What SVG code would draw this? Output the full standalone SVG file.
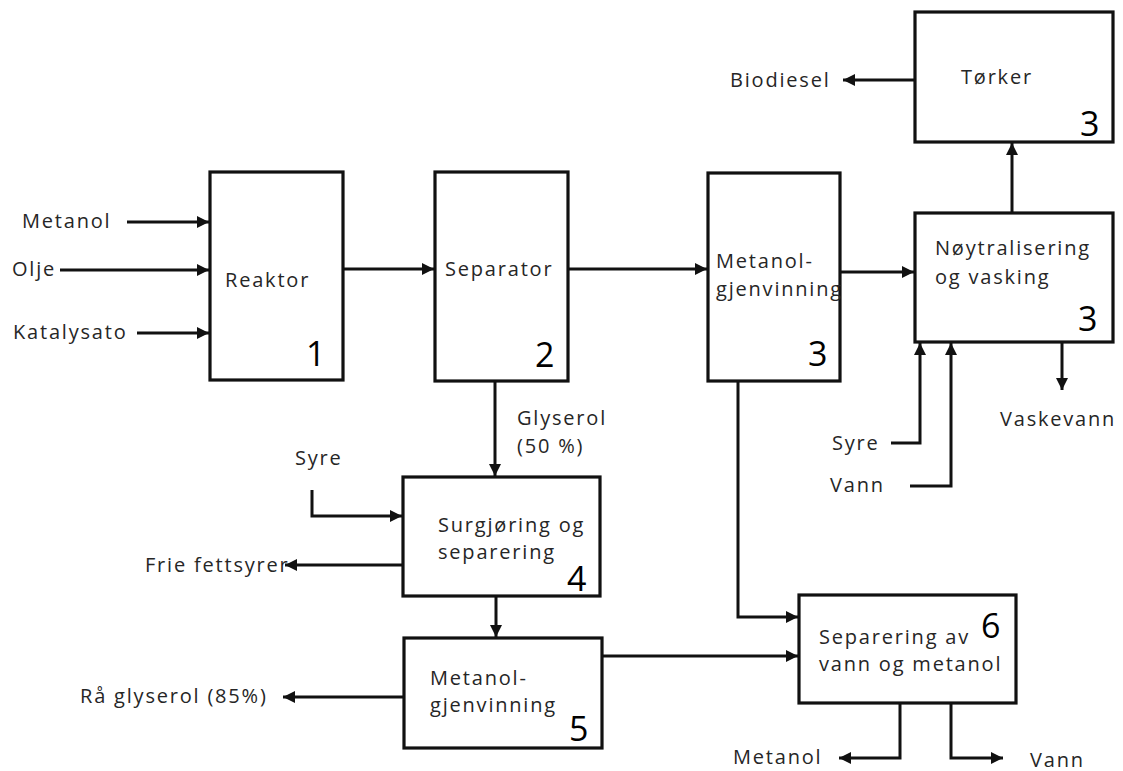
<svg xmlns="http://www.w3.org/2000/svg" width="1123" height="771" viewBox="0 0 1123 771">
<style>
.box{fill:#fff;stroke:#111;stroke-width:3.2}
.ln{fill:none;stroke:#111;stroke-width:3}
.t{font-family:"Open Sans","Noto Sans",sans-serif;font-size:20px;fill:#262626;letter-spacing:1.8px}
.n{font-family:"Open Sans","Noto Sans",sans-serif;font-size:34px;fill:#000}
</style>
<defs>
<marker id="ah" viewBox="0 0 10 10" refX="10" refY="5" markerWidth="13" markerHeight="12" markerUnits="userSpaceOnUse" orient="auto">
<path d="M0,0 L10,5 L0,10 Z" fill="#111"/>
</marker>
</defs>
<rect width="1123" height="771" fill="#fff"/>
<g id="connectors">
<path class="ln" d="M127,222 H209" marker-end="url(#ah)"/>
<path class="ln" d="M60,270 H209" marker-end="url(#ah)"/>
<path class="ln" d="M137,333 H209" marker-end="url(#ah)"/>
<path class="ln" d="M343,269 H434" marker-end="url(#ah)"/>
<path class="ln" d="M568,269 H707" marker-end="url(#ah)"/>
<path class="ln" d="M840,272 H914" marker-end="url(#ah)"/>
<path class="ln" d="M1012,213 V143" marker-end="url(#ah)"/>
<path class="ln" d="M915,80 H843" marker-end="url(#ah)"/>
<path class="ln" d="M1062,342 V390" marker-end="url(#ah)"/>
<path class="ln" d="M891,443 H920 V343" marker-end="url(#ah)"/>
<path class="ln" d="M910,486 H951 V343" marker-end="url(#ah)"/>
<path class="ln" d="M738,381 V617 H798" marker-end="url(#ah)"/>
<path class="ln" d="M602,656 H798" marker-end="url(#ah)"/>
<path class="ln" d="M900,703 V758 H839" marker-end="url(#ah)"/>
<path class="ln" d="M951,703 V758 H1003" marker-end="url(#ah)"/>
<path class="ln" d="M495,381 V476" marker-end="url(#ah)"/>
<path class="ln" d="M312,490 V516 H402" marker-end="url(#ah)"/>
<path class="ln" d="M403,565 H285" marker-end="url(#ah)"/>
<path class="ln" d="M496,596 V637" marker-end="url(#ah)"/>
<path class="ln" d="M404,697 H283" marker-end="url(#ah)"/>
</g>
<g id="labels">
<text class="t" x="22" y="228">Metanol</text>
<text class="t" x="12" y="276">Olje</text>
<text class="t" x="13" y="339">Katalysato</text>
<text class="t" x="730" y="87">Biodiesel</text>
<text class="t" x="1000" y="426">Vaskevann</text>
<text class="t" x="832" y="450">Syre</text>
<text class="t" x="830" y="492">Vann</text>
<text class="t" x="517" y="425">Glyserol</text>
<text class="t" x="517" y="453">(50 %)</text>
<text class="t" x="295" y="465">Syre</text>
<text class="t" x="145" y="572">Frie fettsyrer</text>
<text class="t" x="80" y="703">Rå glyserol (85%)</text>
<text class="t" x="733" y="764">Metanol</text>
<text class="t" x="1030" y="767">Vann</text>
</g>
<g id="reaktor">
<rect class="box" x="210" y="172" width="133" height="208"/>
<text class="t" x="225" y="287">Reaktor</text>
<text class="n" x="306" y="366">1</text>
</g>
<g id="separator">
<rect class="box" x="435" y="172" width="133" height="209"/>
<text class="t" x="445" y="276">Separator</text>
<text class="n" x="535" y="367">2</text>
</g>
<g id="metanolgjenvinning3">
<rect class="box" x="708" y="173" width="132" height="208"/>
<text class="t" x="716" y="268">Metanol-</text>
<text class="t" x="716" y="296">gjenvinning</text>
<text class="n" x="808" y="366">3</text>
</g>
<g id="torker">
<rect class="box" x="915" y="12" width="198" height="130"/>
<text class="t" x="961" y="84">Tørker</text>
<text class="n" x="1080" y="136">3</text>
</g>
<g id="noytralisering">
<rect class="box" x="915" y="213" width="198" height="129"/>
<text class="t" x="935" y="255">Nøytralisering</text>
<text class="t" x="935" y="284">og vasking</text>
<text class="n" x="1078" y="331">3</text>
</g>
<g id="surgjoring">
<rect class="box" x="403" y="477" width="197" height="119"/>
<text class="t" x="438" y="532">Surgjøring og</text>
<text class="t" x="438" y="559">separering</text>
<text class="n" x="567" y="591">4</text>
</g>
<g id="metanolgjenvinning5">
<rect class="box" x="404" y="638" width="198" height="110"/>
<text class="t" x="430" y="685">Metanol-</text>
<text class="t" x="430" y="712">gjenvinning</text>
<text class="n" x="569" y="741">5</text>
</g>
<g id="separering6">
<rect class="box" x="799" y="595" width="217" height="108"/>
<text class="t" x="819" y="644">Separering av</text>
<text class="t" x="819" y="671">vann og metanol</text>
<text class="n" x="981" y="638">6</text>
</g>
</svg>
